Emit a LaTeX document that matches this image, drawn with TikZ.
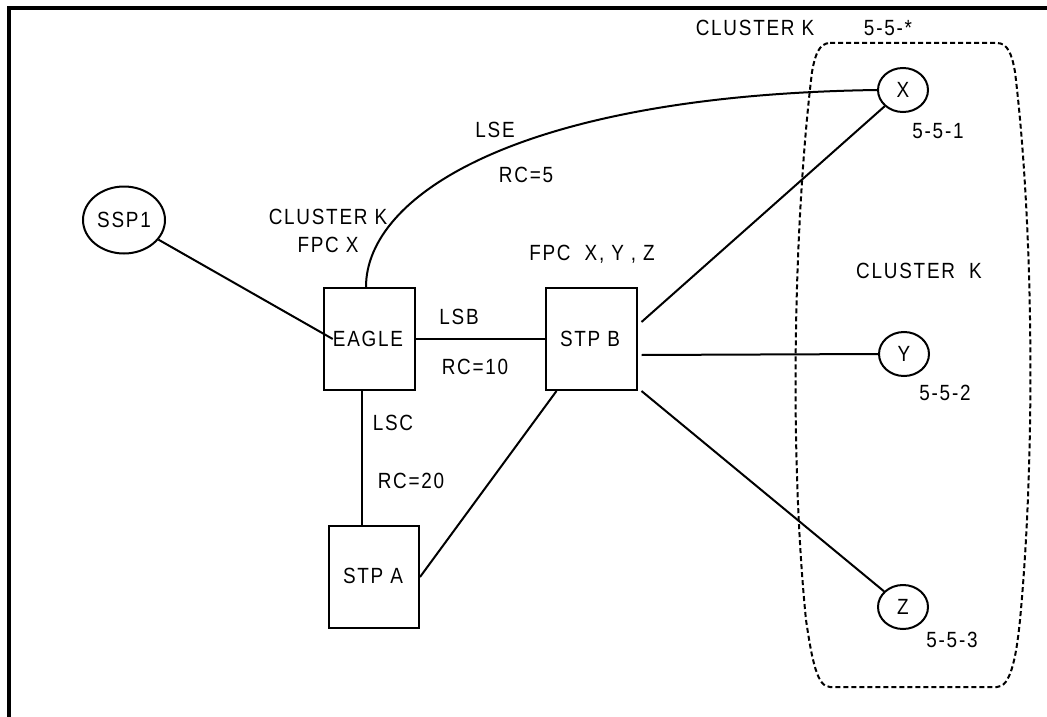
\documentclass[tikz,border=0pt]{standalone}
\usepackage{fontspec}
\setmainfont[FakeStretch=0.86, LetterSpace=8]{Liberation Sans}
\usetikzlibrary{shapes.geometric,calc}
\begin{document}
\begin{tikzpicture}[x=1pt,y=-1pt,
  lbl/.style={font=\fontsize{22}{26}\selectfont, inner sep=0pt},
  boxnode/.style={draw, line width=2pt, minimum width=91pt, minimum height=102pt, inner sep=0pt},
  ell/.style={draw, ellipse, line width=2pt, inner sep=0pt, font=\fontsize{22}{26}\selectfont},
  conn/.style={line width=2pt},
  cluster/.style={line width=2pt, dash pattern=on 5pt off 3pt}]
\useasboundingbox (0,0) rectangle (1047,717);
% frame
\draw[line width=4.5pt] (9,717) -- (9,8) -- (1047,8);
% cluster outline
\draw[cluster] (830,43) -- (997,43) .. controls (1008,43) and (1012,55) .. (1015,72)
  .. controls (1033,220) and (1036,450) .. (1020,620)
  .. controls (1016,660) and (1010,687) .. (997,687) -- (830,687)
  .. controls (817,687) and (812,660) .. (806,620)
  .. controls (789,450) and (794,220) .. (812,72)
  .. controls (815,55) and (819,43) .. (830,43) -- cycle;
% nodes
\node[ell, minimum width=82pt, minimum height=67pt] (S) at (124,220) {SSP1};
\node[boxnode] (E) at (369.5,339) {};
\node[lbl] (Et) at (368,339) {EAGLE};
\node[boxnode] (B) at (591,339) {};
\node[lbl] (Bt) at (590,339) {STP B};
\node[boxnode, minimum width=90pt] (A) at (374,577) {};
\node[lbl] (At) at (373,576) {STP A};
\node[ell, minimum width=50pt, minimum height=44pt] (X) at (903,90) {X};
\node[ell, minimum width=50pt, minimum height=44pt] (Y) at (904,354) {Y};
\node[ell, minimum width=50pt, minimum height=44pt] (Z) at (903,607) {Z};
% labels
\node[lbl] (lck) at (755,28) {CLUSTER K};
\node[lbl] (l55s) at (888,28) {5-5-*};
\node[lbl] (l551) at (938,131) {5-5-1};
\node[lbl] (l552) at (945,393) {5-5-2};
\node[lbl] (l553) at (952,640) {5-5-3};
\node[lbl] (lck2) at (919,271) {CLUSTER\ \ K};
\node[lbl] (lck3) at (328,217) {CLUSTER K};
\node[lbl] (lfpc) at (328,245) {FPC X};
\node[lbl] (lfpc2) at (592,254) {FPC\ \ X,\ Y\ ,\ Z};
\node[lbl] (llse) at (495,130) {LSE};
\node[lbl] (lrc5) at (526,175) {RC=5};
\node[lbl] (llsb) at (459,317) {LSB};
\node[lbl] (lrc10) at (475,367) {RC=10};
\node[lbl] (llsc) at (393,423) {LSC};
\node[lbl] (lrc20) at (411,481) {RC=20};
% connectors
\draw[conn] (S) -- (Et.west);
\draw[conn] (E) -- (B);
\draw[conn] ($(E.south)+(-7.5,0)$) -- ($(A.north)+(-12,0)$);
\draw[conn] (A.east) -- ($(B.south west)+(12,0)$);
\draw[conn] ($(B.north east)+(4,35)$) -- (X);
\draw[conn] ($(B.east)+(4,16)$) -- (Y.west);
\draw[conn] ($(B.south east)+(4,0)$) -- (Z);
\draw[conn] ($(E.north)+(-3.5,0)$) .. controls (366,195) and (520,95) .. (X.west);
\end{tikzpicture}
\end{document}
